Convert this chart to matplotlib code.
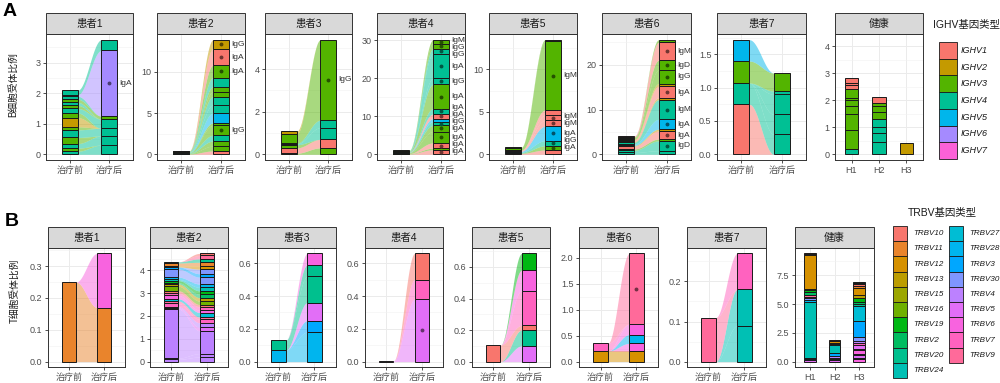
import numpy as np
import matplotlib
matplotlib.use('Agg')
import matplotlib.pyplot as plt
from matplotlib.patches import Rectangle
from matplotlib.ticker import MultipleLocator, FormatStrFormatter

plt.rcParams['font.family'] = ['Liberation Sans', 'Noto Sans CJK SC']

#%% data
ighv_names = ['IGHV1', 'IGHV2', 'IGHV3', 'IGHV4', 'IGHV5', 'IGHV6', 'IGHV7']
trbv_names = ['TRBV10', 'TRBV11', 'TRBV12', 'TRBV13', 'TRBV15', 'TRBV16', 'TRBV19',
              'TRBV2', 'TRBV20', 'TRBV24', 'TRBV27', 'TRBV28', 'TRBV3', 'TRBV30',
              'TRBV4', 'TRBV5', 'TRBV6', 'TRBV7', 'TRBV9']
patients = ['患者1', '患者2', '患者3', '患者4', '患者5', '患者6', '患者7']
stages = ['治疗前', '治疗后']
healthy = ['H1', 'H2', 'H3']

# A: B cell clones (gene index, before, after, isotype label)
a1_gene = [3, 2, 3, 2, 3, 2, 1, 2, 3, 2, 3, 2, 3, 5, 3]
a1_pre = [0.1, 0.1, 0.15, 0.2, 0.25, 0.1, 0.3, 0.15, 0.15, 0.1, 0.1, 0.1, 0.1, 0.05, 0.15]
a1_post = [0.3, 0, 0.3, 0, 0.25, 0, 0, 0, 0.3, 0, 0, 0.1, 0, 2.15, 0.35]
a1_lab = [None] * 13 + ['IgA', None]

a2_gene = [0, 2, 2, 3, 2, 2, 4, 3, 3, 2, 2, 3, 2, 0, 1]
a2_pre = [0.02, 0.03, 0.03, 0.04, 0.05, 0.02, 0.02, 0.04, 0.03, 0.03, 0.03, 0.03, 0.03, 0, 0]
a2_post = [0.4, 0.6, 0.6, 0.7, 1.2, 0.3, 1.2, 1.0, 1.0, 0.6, 0.6, 1.1, 1.5, 2.0, 1.1]
a2_lab = [None, None, None, None, 'IgG', None, None, None, None, None, None, None, 'IgA', 'IgA', 'IgG']

a3_gene = [2, 0, 2, 3, 3, 2, 1]
a3_pre = [0.05, 0.25, 0.15, 0.03, 0.03, 0.44, 0.13]
a3_post = [0.3, 0.4, 0, 0.55, 0.35, 3.78, 0]
a3_lab = [None, None, None, None, None, 'IgG', None]

a4_gene = [0, 2, 0, 2, 2, 3, 4, 0, 3, 2, 3, 3, 3, 2, 2]
a4_pre = [0.05, 0.1, 0.05, 0.15, 0.1, 0.05, 0.05, 0.05, 0.05, 0.1, 0.05, 0.05, 0.05, 0.05, 0.05]
a4_post = [1.2, 0.4, 1.4, 3.0, 1.6, 1.0, 0.8, 1.2, 1.4, 6.4, 1.6, 6.5, 1.3, 1.4, 1.0]
a4_lab = ['IgA', None, 'IgA', 'IgA', 'IgA', 'IgG', None, 'IgA', 'IgA', 'IgA', 'IgG', 'IgA', 'IgG', 'IgG', 'IgM']

a5_gene = [0, 2, 3, 4, 0, 0, 0, 2, 2]
a5_pre = [0.1, 0.05, 0.1, 0.1, 0.05, 0.05, 0.05, 0.25, 0.05]
a5_post = [0.5, 0.5, 0.6, 1.7, 0.7, 0.6, 0.6, 8.1, 0.2]
a5_lab = [None, 'IgA', 'IgG', 'IgA', 'IgM', 'IgM', None, 'IgM', None]

a6_gene = [3, 3, 2, 0, 1, 4, 3, 1, 0, 1, 2, 2, 0, 2]
a6_pre = [0.4, 0.5, 0.3, 0.6, 0.2, 0.3, 0.4, 0.2, 0.3, 0.2, 0.3, 0.2, 0.2, 0.0]
a6_post = [0.8, 2.2, 0.4, 1.8, 0.4, 2.2, 4.4, 0.4, 2.6, 0.6, 3.0, 2.2, 4.0, 0.6]
a6_lab = [None, 'IgD', None, 'IgA', None, 'IgA', 'IgM', None, 'IgA', None, 'IgG', 'IgD', 'IgM', None]

a7_gene = [0, 3, 3, 3, 3, 2, 4]
a7_pre = [0.75, 0.32, 0, 0, 0, 0.33, 0.32]
a7_post = [0, 0.3, 0.3, 0.3, 0.05, 0.27, 0]
a7_lab = [None] * 7

ah1_gene = [3, 2, 2, 2, 2, 2, 2, 0, 0, 0]
ah1_val = [0.2, 0.7, 0.6, 0.3, 0.2, 0.1, 0.3, 0.15, 0.1, 0.19]
ah2_gene = [3, 3, 3, 3, 2, 2, 2, 0]
ah2_val = [0.45, 0.35, 0.2, 0.3, 0.25, 0.25, 0.1, 0.23]
ah3_gene = [1]
ah3_val = [0.43]

# B: T cell clones
b1_gene = [1, 16]
b1_pre = [0.25, 0]
b1_post = [0.17, 0.17]
b1_lab = [None, None]

b2_gene = [14, 14, 14, 15, 14, 17, 18, 10, 16, 17, 0, 5, 3, 7, 6, 9, 11, 13, 12, 13, 2, 1, 8, 18, 0]
b2_pre = [0.1, 0.05, 2.15, 0.05, 0.05, 0.15, 0.1, 0.1, 0.15, 0.1, 0.1, 0.2, 0.1, 0.05, 0.1,
          0.05, 0.1, 0.35, 0.1, 0, 0.05, 0.12, 0.05, 0, 0]
b2_post = [0.2, 0.15, 1.0, 0.15, 0.2, 0.15, 0.1, 0.2, 0.1, 0.15, 0.1, 0.15, 0.15, 0.15, 0.15,
           0.15, 0.15, 0.3, 0.15, 0.2, 0.15, 0.15, 0.15, 0.15, 0.09]
b2_lab = [None] * 25

b3_gene = [11, 12, 15, 8, 8, 16]
b3_pre = [0.07, 0, 0, 0.06, 0, 0]
b3_post = [0.18, 0.07, 0.11, 0.16, 0.07, 0.07]
b3_lab = [None] * 6

b4_gene = [15, 17, 0]
b4_pre = [0.004, 0, 0]
b4_post = [0.38, 0.12, 0.16]
b4_lab = ['', None, None]

b5_gene = [15, 8, 0, 17, 16, 6]
b5_pre = [0, 0, 0.105, 0, 0, 0]
b5_post = [0.1, 0.1, 0.03, 0.22, 0.13, 0.106]
b5_lab = [None] * 6

b6_gene = [2, 16, 11, 16, 17, 18]
b6_pre = [0.2, 0, 0, 0, 0.15, 0]
b6_post = [0.2, 0.15, 0.17, 0.2, 0, 1.36]
b6_lab = [None, None, None, None, None, '']

b7_gene = [9, 9, 18, 17]
b7_pre = [0, 0, 0.11, 0]
b7_post = [0.09, 0.09, 0, 0.09]
b7_lab = [None] * 4

bh1_gene = [15, 12, 16, 9, 11, 13, 17, 18, 7, 6, 5, 2, 1, 0]
bh1_val = [0.1, 0.1, 0.1, 4.9, 0.15, 0.15, 0.15, 0.15, 0.25, 0.2, 0.1, 2.95, 0.05, 0.05]
bh2_gene = [15, 16, 17, 14, 12, 9, 13, 8, 2, 1]
bh2_val = [0.1, 0.1, 0.1, 0.2, 0.25, 0.7, 0.1, 0.1, 0.1, 0.1]
bh3_gene = [16, 17, 15, 14, 16, 18, 15, 17, 14, 13, 12, 10, 8, 7, 6, 3, 2, 1, 0, 11, 9]
bh3_val = [0.2, 0.15, 0.2, 0.15, 0.3, 0.1, 0.3, 0.2, 0.2, 0.3, 1.4, 1.3, 0.2, 0.2, 0.3, 0.3,
           0.6, 0.2, 0.1, 0.1, 0.15]

a_steps = [1, 5, 2, 10, 5, 10, 0.5, 1]
b_steps = [0.1, 1, 0.2, 0.2, 0.2, 0.5, 0.1, 2.5]
a_healthy_top = 4.24

#%% ggplot-like hue palette
def hue_pal(n, l=65, c=100):
    cols = []
    Xn, Yn, Zn = 0.95047, 1.0, 1.08883
    un = 4 * Xn / (Xn + 15 * Yn + 3 * Zn)
    vn = 9 * Yn / (Xn + 15 * Yn + 3 * Zn)
    M = np.array([[3.2406, -1.5372, -0.4986], [-0.9689, 1.8758, 0.0415], [0.0557, -0.2040, 1.0570]])
    for h in np.linspace(15, 375, n + 1)[:-1]:
        u = c * np.cos(np.radians(h)); v = c * np.sin(np.radians(h))
        Y = Yn * ((l + 16) / 116) ** 3
        up = u / (13 * l) + un; vp = v / (13 * l) + vn
        X = Y * 9 * up / (4 * vp); Z = Y * (12 - 3 * up - 20 * vp) / (4 * vp)
        rgb = M @ np.array([X, Y, Z])
        rgb = np.where(rgb <= 0.0031308, 12.92 * rgb, 1.055 * np.abs(rgb) ** (1 / 2.4) - 0.055)
        cols.append(tuple(np.clip(rgb, 0, 1)))
    return cols

pal_a = hue_pal(7)
pal_b = hue_pal(19)

#%% layout
W, H = 1000, 383
fig = plt.figure(figsize=(10, 3.83), dpi=100)
rows = {'A': (34, 160), 'B': (248, 367)}
px_a = [(46, 133), (157, 245), (265, 352), (377, 465), (489, 577), (602, 691), (717, 806), (835, 923)]
px_b = [(48, 125), (150, 228), (257, 336), (365, 443), (472, 550), (579, 658), (687, 766), (795, 874)]
EDGE = '#1a1a1a'

def make_ax(px, row, title, ymax, step, ncat):
    x0, x1 = px
    yt, yb = rows[row]
    ax = fig.add_axes([x0 / W, (H - yb) / H, (x1 - x0) / W, (yb - yt) / H])
    ax.set_ylim(-0.05 * ymax, 1.05 * ymax)
    ax.set_xlim(-0.6, ncat - 0.4)
    ax.yaxis.set_major_locator(MultipleLocator(step))
    ax.yaxis.set_minor_locator(MultipleLocator(step / 2))
    dec = 0 if float(step).is_integer() else 1
    ax.yaxis.set_major_formatter(FormatStrFormatter('%.' + str(dec) + 'f'))
    ax.set_xticks(range(ncat))
    ax.set_axisbelow(True)
    ax.grid(True, which='major', color='#EBEBEB', lw=0.7)
    ax.grid(True, which='minor', axis='y', color='#F2F2F2', lw=0.4)
    ax.tick_params(length=2.5, width=0.6, color='#333333', labelsize=6.5,
                   labelcolor='#4D4D4D', pad=1.5)
    ax.tick_params(which='minor', length=0)
    for s in ax.spines.values():
        s.set_color('#333333'); s.set_linewidth(0.7)
    hs = 21 / (yb - yt)
    ax.add_patch(Rectangle((0, 1), 1, hs, transform=ax.transAxes, fc='#D9D9D9',
                           ec='#333333', lw=0.7, clip_on=False))
    ax.text(0.5, 1 + hs / 2, title, transform=ax.transAxes, ha='center', va='center',
            fontsize=7.5, color='#1A1A1A')
    ppu = (yb - yt) / (1.1 * ymax)
    return ax, ppu

def repel(ys, gap, hi):
    order = np.argsort(ys)
    y = np.array(ys, float)[order]
    for i in range(1, len(y)):
        y[i] = max(y[i], y[i - 1] + gap)
    if len(y) and y[-1] > hi:
        y[-1] = hi
        for i in range(len(y) - 2, -1, -1):
            y[i] = min(y[i], y[i + 1] - gap)
    out = np.empty_like(y); out[order] = y
    return out

def alluvial(px, row, title, step, genes, pre, post, labs, pal):
    pre = np.asarray(pre, float); post = np.asarray(post, float)
    genes = np.asarray(genes)
    ymax = max(pre.sum(), post.sum())
    ax, ppu = make_ax(px, row, title, ymax, step, 2)
    ax.set_xticklabels(stages)
    w = 0.4
    pt = np.cumsum(pre); pb = pt - pre
    qt = np.cumsum(post); qb = qt - post
    t = np.linspace(0, 1, 60)
    s = (1 - np.cos(np.pi * t)) / 2
    xs = w / 2 + t * (1 - w)
    for g, a, b, c, d in zip(genes, pb, pt, qb, qt):
        ax.fill_between(xs, a + (c - a) * s, b + (d - b) * s, color=pal[g], alpha=0.5,
                        lw=0, zorder=2)
    for x, bot, h in ((0, pb, pre), (1, qb, post)):
        m = h > 0
        ax.bar(np.full(m.sum(), x), h[m], bottom=bot[m], width=w,
               color=[pal[g] for g in genes[m]], edgecolor=EDGE, lw=0.7, zorder=3)
    yc_text, txt = [], []
    for i, lab in enumerate(labs):
        if lab is None:
            continue
        yc = (qb[i] + qt[i]) / 2
        ax.plot(1, yc, 'o', ms=1.8, color=tuple(np.array(pal[genes[i]]) * 0.45), zorder=4)
        if lab:
            yc_text.append(yc); txt.append(lab)
    if txt:
        ys = repel(yc_text, 7.0 / ppu, ymax * 0.995)
        for y, lab in zip(ys, txt):
            ax.text(1 + w / 2 + 0.06, y, lab, fontsize=6, color='#333333', va='center',
                    ha='left', clip_on=False, zorder=5)
    return ax

def stacked(px, row, title, step, genes_list, vals_list, pal, ymax=None):
    tops = [sum(v) for v in vals_list]
    ymax = ymax or max(tops)
    ax, _ = make_ax(px, row, title, ymax, step, len(genes_list))
    ax.set_xticklabels(healthy)
    for x, (g, v) in enumerate(zip(genes_list, vals_list)):
        v = np.asarray(v, float)
        top = np.cumsum(v)
        ax.bar(np.full(len(v), x), v, bottom=top - v, width=0.48,
               color=[pal[k] for k in g], edgecolor=EDGE, lw=0.7, zorder=3)
    return ax

#%% row A
a_data = [(a1_gene, a1_pre, a1_post, a1_lab), (a2_gene, a2_pre, a2_post, a2_lab),
          (a3_gene, a3_pre, a3_post, a3_lab), (a4_gene, a4_pre, a4_post, a4_lab),
          (a5_gene, a5_pre, a5_post, a5_lab), (a6_gene, a6_pre, a6_post, a6_lab),
          (a7_gene, a7_pre, a7_post, a7_lab)]
for k, (g, p, q, l) in enumerate(a_data):
    alluvial(px_a[k], 'A', patients[k], a_steps[k], g, p, q, l, pal_a)
stacked(px_a[7], 'A', '健康', a_steps[7], [ah1_gene, ah2_gene, ah3_gene],
        [ah1_val, ah2_val, ah3_val], pal_a, ymax=a_healthy_top)

#%% row B
b_data = [(b1_gene, b1_pre, b1_post, b1_lab), (b2_gene, b2_pre, b2_post, b2_lab),
          (b3_gene, b3_pre, b3_post, b3_lab), (b4_gene, b4_pre, b4_post, b4_lab),
          (b5_gene, b5_pre, b5_post, b5_lab), (b6_gene, b6_pre, b6_post, b6_lab),
          (b7_gene, b7_pre, b7_post, b7_lab)]
for k, (g, p, q, l) in enumerate(b_data):
    alluvial(px_b[k], 'B', patients[k], b_steps[k], g, p, q, l, pal_b)
stacked(px_b[7], 'B', '健康', b_steps[7], [bh1_gene, bh2_gene, bh3_gene],
        [bh1_val, bh2_val, bh3_val], pal_b)

#%% overlay: letters, y labels, legends
ov = fig.add_axes([0, 0, 1, 1])
ov.set_xlim(0, W); ov.set_ylim(H, 0); ov.axis('off')
ov.text(3, 11, 'A', fontsize=14, fontweight='bold', va='center', ha='left')
ov.text(5, 222, 'B', fontsize=14, fontweight='bold', va='center', ha='left')
ov.text(13, 85, 'B细胞受体比例', rotation=90, fontsize=7, va='center', ha='center', color='#1A1A1A')
ov.text(15, 291, 'T细胞受体比例', rotation=90, fontsize=7, va='center', ha='center', color='#1A1A1A')

ov.text(966, 25, 'IGHV基因类型', fontsize=7.5, ha='center', va='center', color='#1A1A1A')
rh = 16.7
for i, name in enumerate(ighv_names):
    y = 42 + i * rh
    ov.add_patch(Rectangle((939, y), 18, rh, fc=pal_a[i], ec=EDGE, lw=0.6))
    ov.text(961, y + rh / 2, name, fontsize=6.5, style='italic', va='center', color='#1A1A1A')

ov.text(942, 213, 'TRBV基因类型', fontsize=7.5, ha='center', va='center', color='#1A1A1A')
rh = 15.2
for i, name in enumerate(trbv_names):
    col, r = (0, i) if i < 10 else (1, i - 10)
    bx = 893 if col == 0 else 949
    y = 226 + r * rh
    ov.add_patch(Rectangle((bx, y), 14, rh, fc=pal_b[i], ec=EDGE, lw=0.6))
    ov.text(bx + 20, y + rh / 2, name, fontsize=5.8, style='italic', va='center', color='#1A1A1A')

fig.savefig('out.png', dpi=100)
